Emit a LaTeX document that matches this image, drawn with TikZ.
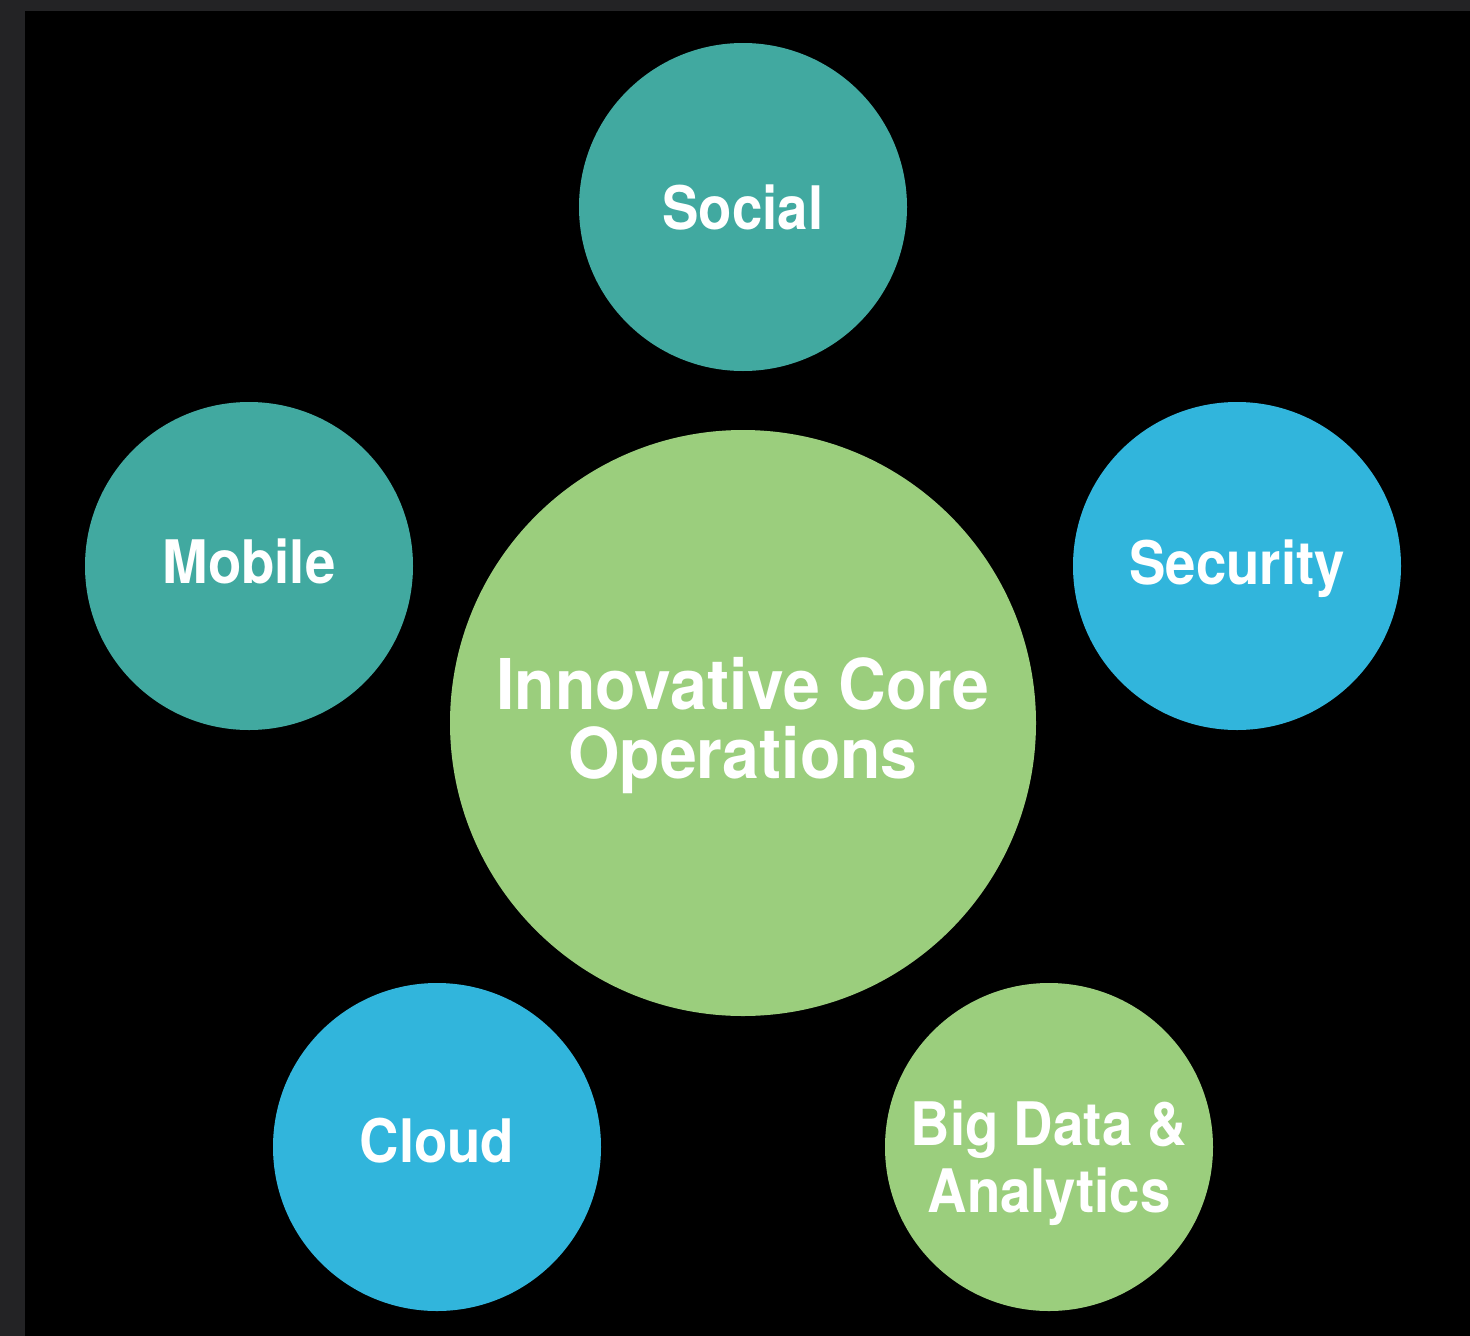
\documentclass[tikz,border=0pt]{standalone}
\usepackage{fontspec}
\setmainfont{TeX Gyre Heros}
\newfontfamily\narrowA[FakeStretch=0.91]{TeX Gyre Heros}
\newfontfamily\narrowB[FakeStretch=0.945]{TeX Gyre Heros}
\definecolor{frame}{RGB}{35,35,37}
\definecolor{tealc}{RGB}{65,169,160}
\definecolor{skyc}{RGB}{49,181,220}
\definecolor{limec}{RGB}{155,206,125}
\begin{document}
\begin{tikzpicture}[x=1pt,y=-1pt,
  bubble/.style={circle,inner sep=0pt},
  teal/.style={fill=tealc},
  sky/.style={fill=skyc},
  lime/.style={fill=limec},
  small/.style={minimum size=328pt},
  big/.style={minimum size=586pt},
  label/.style={text=white,align=center,inner sep=0pt,font=\narrowA\bfseries\fontsize{60}{67}\selectfont},
  biglabel/.style={text=white,align=center,inner sep=0pt,font=\narrowB\bfseries\fontsize{70}{69}\selectfont}]
\fill[frame] (0,0) rectangle (1470,1336);
\fill[black] (25,11) rectangle (1470,1336);
\useasboundingbox (0,0) rectangle (1470,1336);
\node[bubble,teal,small] (social) at (743,207) {};
\node[bubble,teal,small] (mobile) at (249,566) {};
\node[bubble,sky,small] (security) at (1237,566) {};
\node[bubble,lime,big] (core) at (743,723) {};
\node[bubble,sky,small] (cloud) at (437,1147) {};
\node[bubble,lime,small] (bigdata) at (1049,1147) {};
\node[label,anchor=base] (socialtext) at (743,229) {Social};
\node[label,anchor=base] (mobiletext) at (249,583) {Mobile};
\node[label,anchor=base] (securitytext) at (1237,584) {Security};
\node[label,anchor=base] (cloudtext) at (437,1162) {Cloud};
\node[biglabel] (coretext) at (743,726) {Innovative Core\\Operations};
\node[label] (bigdatatext) at (1049,1163) {Big Data \&\\Analytics};
\end{tikzpicture}
\end{document}
